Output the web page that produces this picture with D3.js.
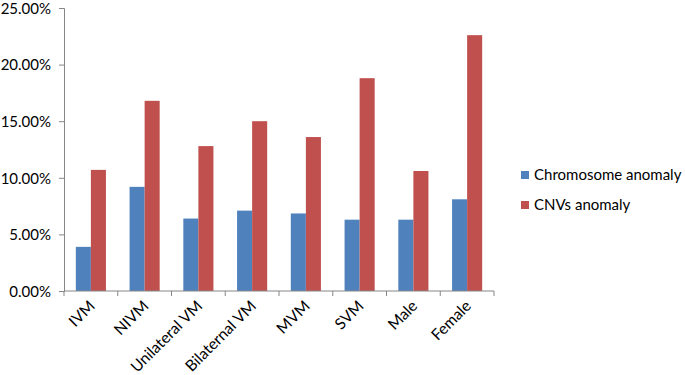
<!DOCTYPE html>
<html>
<head>
<meta charset="utf-8">
<script src="https://cdn.jsdelivr.net/npm/d3@7"></script>
<style>
  body { margin: 0; background: #fff; }
  text { font-family: Lato, "Open Sans", sans-serif; fill: #000; }
</style>
</head>
<body>
<script>
var categories = ["IVM", "NIVM", "Unilateral VM", "Bilaternal VM", "MVM", "SVM", "Male", "Female"];
var chromosome = [3.9, 9.2, 6.4, 7.1, 6.85, 6.3, 6.3, 8.1];
var cnvs = [10.7, 16.8, 12.8, 15.0, 13.6, 18.8, 10.6, 22.6];
var seriesNames = ["Chromosome anomaly", "CNVs anomaly"];
var colors = ["#4f81bd", "#c0504d"];
var yTicks = [0, 5, 10, 15, 20, 25];

var width = 685, height = 375;
var margin = {left: 64, top: 8, right: 191, bottom: 84};

var svg = d3.select("body").append("svg")
  .attr("width", width)
  .attr("height", height);

var xScale = d3.scaleBand()
  .domain(categories)
  .range([margin.left, width - margin.right])
  .paddingInner(0.44)
  .paddingOuter(0.22);

var yScale = d3.scaleLinear()
  .domain([0, 25])
  .range([height - margin.bottom, margin.top]);

var inner = d3.scaleBand()
  .domain([0, 1])
  .range([0, xScale.bandwidth()]);

var axisColor = "#868686";

// y axis
var yAxis = d3.axisLeft(yScale)
  .tickValues(yTicks)
  .tickSize(5)
  .tickPadding(8)
  .tickFormat(function(d) { return d.toFixed(2) + "%"; });
var gy = svg.append("g")
  .attr("transform", "translate(" + margin.left + ",0)")
  .call(yAxis);
gy.selectAll("text").style("font-size", "15px");

// bars
var data = categories.map(function(c, i) {
  return {cat: c, vals: [chromosome[i], cnvs[i]]};
});
var groups = svg.selectAll(".grp")
  .data(data)
  .enter()
  .append("g")
  .attr("class", "grp")
  .attr("transform", function(d) { return "translate(" + xScale(d.cat) + ",0)"; });

groups.selectAll("rect")
  .data(function(d) { return d.vals; })
  .enter()
  .append("rect")
  .attr("x", function(d, i) { return inner(i); })
  .attr("y", function(d) { return yScale(d); })
  .attr("width", inner.bandwidth())
  .attr("height", function(d) { return yScale(0) - yScale(d); })
  .attr("fill", function(d, i) { return colors[i]; });

// x axis: ticks at category boundaries
var xAxisY = yScale(0);
var step = xScale.step();
var bounds = d3.range(categories.length + 1).map(function(i) { return margin.left + i * step; });
var gx = svg.append("g");
gx.append("line")
  .attr("x1", margin.left).attr("x2", width - margin.right)
  .attr("y1", xAxisY).attr("y2", xAxisY)
  .attr("stroke", axisColor);
gx.selectAll(".tk")
  .data(bounds)
  .enter()
  .append("line")
  .attr("x1", function(d) { return d; }).attr("x2", function(d) { return d; })
  .attr("y1", xAxisY).attr("y2", xAxisY + 5)
  .attr("stroke", axisColor);

gx.selectAll(".lbl")
  .data(categories)
  .enter()
  .append("text")
  .attr("text-anchor", "end")
  .attr("transform", function(d) {
    var cx = xScale(d) + xScale.bandwidth() / 2 + 5;
    return "translate(" + cx + "," + (xAxisY + 16) + ") rotate(-45)";
  })
  .style("font-size", "15.5px")
  .text(function(d) { return d; });

gy.select(".domain").attr("stroke", axisColor);
gy.selectAll(".tick line").attr("stroke", axisColor);
gy.selectAll(".tick text").attr("dy", "0.35em");

// legend
var legend = svg.append("g").attr("transform", "translate(521,171)");
seriesNames.forEach(function(name, i) {
  var g = legend.append("g").attr("transform", "translate(0," + i * 30 + ")");
  g.append("rect").attr("width", 8).attr("height", 8).attr("fill", colors[i]);
  g.append("text").attr("x", 13).attr("y", 4).attr("dy", "0.35em")
    .style("font-size", "15px").text(name);
});
</script>
</body>
</html>
